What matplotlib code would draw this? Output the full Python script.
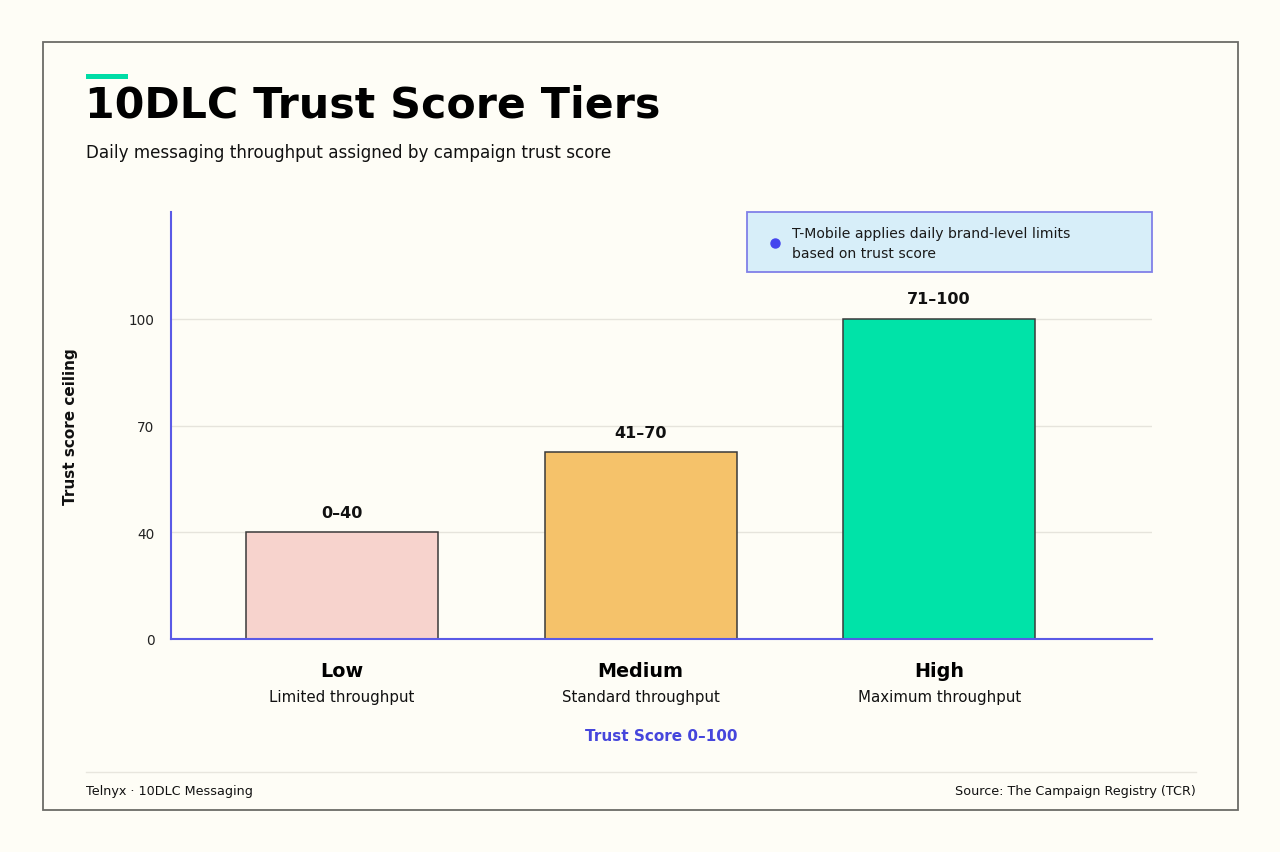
import numpy as np
import matplotlib
matplotlib.use("Agg")
import matplotlib.pyplot as plt
from matplotlib.patches import Rectangle
from matplotlib.lines import Line2D

# ---- data ----
categories = ["Low", "Medium", "High"]
descriptions = ["Limited throughput", "Standard throughput", "Maximum throughput"]
range_labels = ["0–40", "41–70", "71–100"]
ceilings = [40, 62.5, 100]
tick_values = [0, 40, 70, 100]
bar_colors = ["#F7D3CD", "#F5C26A", "#00E3A8"]

BG = "#FEFDF6"
W, H = 1280, 853

fig = plt.figure(figsize=(W / 100, H / 100), dpi=100, facecolor=BG)

def fx(px):
    return px / W

def fy(py):
    return 1 - py / H

# outer frame
fig.patches.append(Rectangle((fx(43), fy(811)), fx(1238) - fx(43), fy(43) - fy(811),
                             transform=fig.transFigure, facecolor="none",
                             edgecolor="#6B6B66", linewidth=1.3, zorder=0))
# accent bar
fig.patches.append(Rectangle((fx(86), fy(80)), fx(128) - fx(86), fy(75) - fy(80),
                             transform=fig.transFigure, facecolor="#00DDA6",
                             edgecolor="none"))

fig.text(fx(85), fy(105), "10DLC Trust Score Tiers", fontsize=30.8, fontweight="bold",
         ha="left", va="center", color="#000000")
fig.text(fx(86), fy(153), "Daily messaging throughput assigned by campaign trust score",
         fontsize=12.1, ha="left", va="center", color="#111111")

# axes
ax = fig.add_axes([fx(171), fy(640), fx(1152) - fx(171), fy(213) - fy(640)])
ax.set_facecolor(BG)

# piecewise scale: equal spacing between tick values
scale_pts = tick_values + [130]
scale_pos = list(range(len(scale_pts)))

def fwd(v):
    return np.interp(v, scale_pts, scale_pos)

def inv(p):
    return np.interp(p, scale_pos, scale_pts)

ax.set_yscale("function", functions=(fwd, inv))
ax.set_ylim(0, 130)

x = np.arange(len(categories))
ax.bar(x, ceilings, width=0.643, color=bar_colors, edgecolor="#3A3A3A",
       linewidth=1.1, zorder=3)
ax.set_xlim(-0.573, 2.713)

for xi, v, lab in zip(x, ceilings, range_labels):
    ax.annotate(lab, (xi, v), xytext=(0, 9), textcoords="offset points",
                ha="center", va="bottom", fontsize=11.5, fontweight="bold", color="#111111")

ax.set_yticks(tick_values)
ax.set_yticklabels([str(t) for t in tick_values])
ax.tick_params(axis="y", length=0, labelsize=9.8, pad=12, colors="#222222")
ax.tick_params(axis="x", length=0)
ax.set_xticks([])
ax.grid(axis="y", color="#E6E4DC", linewidth=1, zorder=0)

for s in ["top", "right"]:
    ax.spines[s].set_visible(False)
for s in ["left", "bottom"]:
    ax.spines[s].set_color("#5A5AE6")
    ax.spines[s].set_linewidth(1.5)
    ax.spines[s].set_zorder(4)

# category labels
for xi, c, d in zip(x, categories, descriptions):
    ax.annotate(c, (xi, 0), xytext=(0, -23), textcoords="offset points",
                ha="center", va="center", fontsize=13.8, fontweight="bold", color="#000000",
                annotation_clip=False)
    ax.annotate(d, (xi, 0), xytext=(0, -41.5), textcoords="offset points",
                ha="center", va="center", fontsize=10.8, color="#111111",
                annotation_clip=False)

fig.text(fx(661.5), fy(737), "Trust Score 0–100", fontsize=11, fontweight="bold",
         color="#4646DC", ha="center", va="center")
fig.text(fx(70), fy(427), "Trust score ceiling", fontsize=11, fontweight="bold",
         rotation=90, ha="center", va="center", color="#111111")

# note box
fig.patches.append(Rectangle((fx(747), fy(273)), fx(1152) - fx(747), fy(213) - fy(273),
                             transform=fig.transFigure, facecolor="#D7EEF9",
                             edgecolor="#8080E8", linewidth=1.3, zorder=5))
fig.lines.append(Line2D([fx(775)], [fy(243.5)], transform=fig.transFigure, marker="o",
                        markersize=6.5, color="#4444EE", linestyle="none", zorder=6))
fig.text(fx(792), fy(234), "T-Mobile applies daily brand-level limits", fontsize=10.1,
         ha="left", va="center", color="#1A1A1A", zorder=6)
fig.text(fx(792), fy(254), "based on trust score", fontsize=10.1,
         ha="left", va="center", color="#1A1A1A", zorder=6)

# footer
fig.lines.append(Line2D([fx(86), fx(1196)], [fy(773), fy(773)], transform=fig.transFigure,
                        color="#E8E6DE", linewidth=1))
fig.text(fx(86), fy(792), "Telnyx · 10DLC Messaging", fontsize=9.2, ha="left",
         va="center", color="#111111")
fig.text(fx(1196), fy(792), "Source: The Campaign Registry (TCR)", fontsize=9.2,
         ha="right", va="center", color="#111111")

fig.savefig("out.png", dpi=100, facecolor=BG)
